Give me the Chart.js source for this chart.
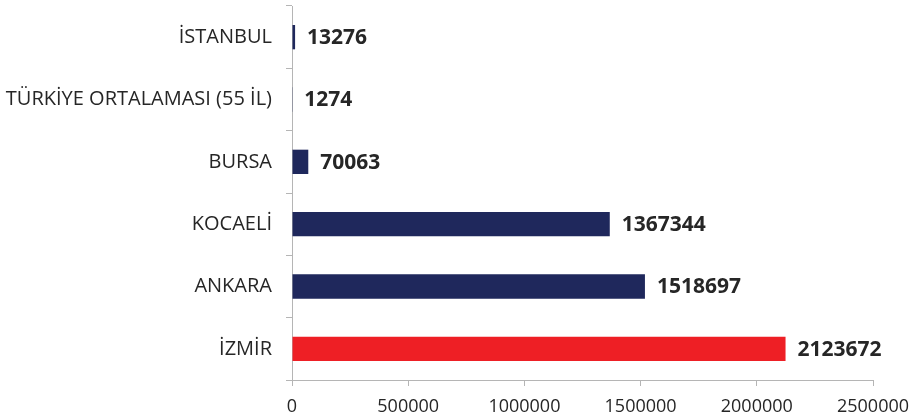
<!DOCTYPE html>
<html>
<head>
<meta charset="utf-8">
<script src="https://cdn.jsdelivr.net/npm/chart.js@4.4.1/dist/chart.umd.min.js"></script>
<style>
  html, body { margin: 0; padding: 0; background: #fff; }
  #wrap { width: 915px; height: 420px; }
</style>
</head>
<body>
<div id="wrap"><canvas id="myChart" width="915" height="420"></canvas></div>
<script>
// data
var cities = ['İSTANBUL', 'TÜRKİYE ORTALAMASI (55 İL)', 'BURSA', 'KOCAELİ', 'ANKARA', 'İZMİR'];
var values = [13276, 1274, 70063, 1367344, 1518697, 2123672];
var barColors = ['#1f285c', '#1f285c', '#1f285c', '#1f285c', '#1f285c', '#ee1f25'];
var xTicks = [0, 500000, 1000000, 1500000, 2000000, 2500000];

var axisGray = '#b5b5b5';
var textColor = '#262626';

// writes the value next to each bar
var valueLabels = {
  id: 'valueLabels',
  afterDatasetsDraw: function(chart) {
    var ctx = chart.ctx;
    var meta = chart.getDatasetMeta(0);
    ctx.save();
    ctx.font = 'bold 21px "Open Sans"';
    ctx.fillStyle = textColor;
    ctx.textBaseline = 'middle';
    ctx.textAlign = 'left';
    meta.data.forEach(function(bar, i) {
      ctx.fillText(String(values[i]), bar.x + 12, bar.y + 1);
    });
    ctx.restore();
  }
};

var ctx = document.getElementById('myChart').getContext('2d');
var chart = new Chart(ctx, {
  type: 'bar',
  data: {
    labels: cities,
    datasets: [{
      data: values,
      backgroundColor: barColors,
      barPercentage: 0.39,
      categoryPercentage: 1.0
    }]
  },
  options: {
    indexAxis: 'y',
    responsive: false,
    animation: false,
    layout: { padding: { top: 6, right: 42, bottom: 0, left: 0 } },
    plugins: {
      legend: { display: false },
      tooltip: { enabled: false }
    },
    scales: {
      x: {
        min: 0,
        max: 2500000,
        afterBuildTicks: function(scale) {
          scale.ticks = xTicks.map(function(v) { return { value: v }; });
        },
        afterFit: function(scale) {
          scale.height = 40;
          scale.paddingLeft = 0;
          scale.paddingRight = 0;
        },
        grid: { drawOnChartArea: false, drawTicks: true, tickLength: 6, color: axisGray },
        border: { display: true, color: axisGray, width: 1 },
        ticks: {
          color: textColor,
          font: { family: '"Open Sans"', size: 18 },
          padding: 10,
          maxRotation: 0,
          callback: function(v) { return String(v); }
        }
      },
      y: {
        afterFit: function(scale) {
          scale.width = 292;
          scale.paddingTop = 0;
          scale.paddingBottom = 0;
        },
        grid: { offset: true, drawOnChartArea: false, drawTicks: true, tickLength: 6, color: axisGray },
        border: { display: true, color: axisGray, width: 1 },
        ticks: {
          color: textColor,
          font: { family: '"Open Sans"', size: 20 },
          padding: 14
        }
      }
    }
  },
  plugins: [valueLabels]
});
</script>
</body>
</html>
